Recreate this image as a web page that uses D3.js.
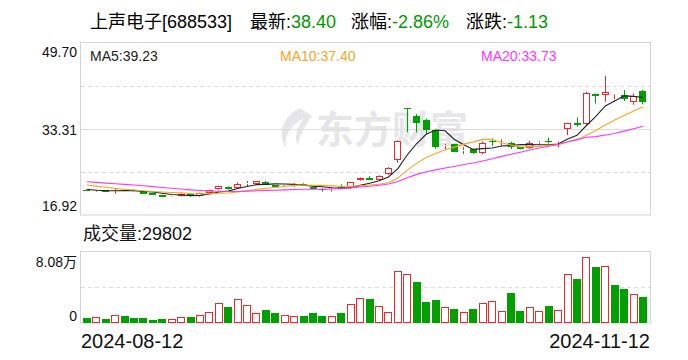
<!DOCTYPE html>
<meta charset="utf-8">
<script src="https://d3js.org/d3.v7.min.js"></script>
<style>
body { margin: 0; background: #fff; }
text { font-family: "Liberation Sans", "Noto Sans CJK SC", sans-serif; }
</style>
<div id="chart"></div>
<script>
// header / labels
var stockName = "上声电子[688533]";
var lastPrice = "38.40", pctChange = "-2.86%", priceChange = "-1.13";
var lastVolume = "29802";
var dateLabels = ["2024-08-12", "2024-11-12"];
var priceTicks = [16.92, 33.31, 49.70];
var volTicks = [0, 8.08];          // in 万
var maPeriods = [5, 10, 20];
var maLabels = ["39.23", "37.40", "33.73"];

// closes before the first visible day (only feed the moving averages)
var earlierCloses = [24.2, 24.1, 24.0, 23.95, 23.9, 23.85, 23.8, 23.7, 23.6, 23.6,
  23.7, 23.6, 23.45, 23.3, 23.05, 22.5, 21.95, 21.55, 21.36];

var opens = [21.70, 21.42, 21.62, 21.48, 21.62, 21.67, 21.35, 21.03, 20.72, 20.30,
  20.53, 20.85, 20.55, 21.05, 21.80, 22.23, 22.05, 22.90, 22.85, 23.25,
  22.55, 22.55, 22.60, 22.80, 22.30, 21.85, 21.80, 22.25, 22.20, 23.56,
  23.95, 23.60, 24.70, 27.30, 37.23, 35.71, 34.95, 33.00, 30.10, 30.35,
  29.20, 29.40, 28.62, 31.00, 30.70, 30.53, 29.77, 29.64, 30.60, 31.00,
  30.30, 33.19, 34.45, 34.13, 39.89, 39.70, 38.98, 39.70, 38.31, 40.46];
var highs = [21.75, 21.75, 21.70, 22.00, 21.70, 21.75, 21.45, 21.10, 20.80, 20.45,
  21.05, 20.95, 21.15, 21.70, 22.50, 22.35, 23.10, 23.37, 23.40, 23.35,
  22.60, 22.85, 22.95, 22.95, 22.40, 22.00, 22.10, 22.75, 23.25, 24.05,
  24.30, 24.45, 26.05, 31.05, 37.25, 36.09, 35.20, 33.10, 30.45, 30.45,
  29.80, 29.50, 30.90, 31.48, 31.29, 30.84, 29.90, 31.02, 31.02, 31.60,
  30.84, 34.45, 35.46, 40.33, 40.00, 43.36, 39.83, 40.65, 40.02, 40.65];
var lows = [21.60, 21.35, 21.30, 20.96, 21.45, 21.40, 20.90, 20.70, 20.35, 20.15,
  20.45, 20.40, 20.40, 20.95, 21.75, 21.75, 22.00, 22.42, 22.80, 22.65,
  22.20, 22.45, 22.30, 22.45, 21.80, 21.35, 21.35, 21.85, 22.00, 23.45,
  23.55, 23.45, 24.55, 26.85, 32.67, 32.60, 32.29, 29.50, 29.25, 28.85,
  28.50, 28.55, 28.45, 30.07, 30.02, 29.45, 29.40, 29.50, 30.26, 30.53,
  29.77, 32.10, 33.70, 34.00, 38.12, 38.42, 38.56, 38.56, 37.86, 37.95];
var closes = [21.64, 21.67, 21.36, 21.58, 21.55, 21.48, 21.00, 20.78, 20.40, 20.42,
  20.96, 20.45, 21.05, 21.60, 22.42, 21.80, 22.90, 23.00, 23.30, 22.70,
  22.25, 22.78, 22.66, 22.50, 21.85, 21.65, 21.88, 22.15, 23.10, 24.00,
  23.60, 24.30, 25.78, 30.97, 37.16, 34.32, 33.05, 29.80, 30.25, 28.95,
  29.30, 28.62, 30.53, 30.90, 30.78, 29.77, 29.50, 30.53, 30.70, 30.90,
  30.40, 34.32, 34.00, 40.02, 39.51, 40.33, 39.05, 38.88, 39.53, 38.40];
// volume in 万 shares
var volumes = [0.54, 0.66, 0.43, 0.96, 0.77, 0.54, 0.54, 0.31, 0.43, 0.50,
  0.73, 0.66, 0.96, 1.30, 2.34, 1.81, 2.73, 2.11, 1.19, 1.47,
  1.12, 0.96, 0.84, 0.77, 1.12, 0.77, 0.84, 1.12, 2.23, 2.92,
  2.73, 2.00, 1.30, 6.04, 5.69, 4.70, 2.39, 2.62, 1.88, 1.58,
  1.30, 1.58, 2.34, 2.57, 1.42, 3.43, 1.35, 1.88, 1.42, 1.93,
  1.53, 5.69, 5.04, 7.65, 6.43, 6.61, 4.35, 3.89, 3.38, 2.98];
// 1 = up day (red bar), 0 = down day (green bar)
var volUp = [0, 1, 0, 1, 0, 0, 0, 0, 0, 1,
  1, 0, 1, 1, 1, 0, 1, 1, 1, 0,
  0, 1, 1, 0, 0, 0, 1, 0, 1, 1,
  0, 1, 1, 1, 1, 0, 0, 0, 1, 0,
  1, 0, 1, 1, 1, 0, 0, 1, 1, 0,
  1, 1, 0, 1, 0, 1, 0, 0, 1, 0];

var RED = "#f0282a", GREEN = "#00a000", FRAME = "#d3d3db", GRID = "#dcdcdc";

var svg = d3.select("#chart").append("svg")
  .attr("width", 688).attr("height", 360);

var n = closes.length;
var x = d3.scalePoint().domain(d3.range(n)).range([82.1, 647.7]).padding(0.5);
var y = d3.scaleLinear().domain([priceTicks[0], priceTicks[2]]).range([215, 42.5]);
var yv = d3.scaleLinear().domain(volTicks).range([323, 253]);

// header
var head = svg.append("g").style("font-size", "18px");
head.append("text").attr("x", 90).attr("y", 28).attr("fill", "#000").text(stockName);
var parts = [["最新:", lastPrice, 250], ["涨幅:", pctChange, 351], ["涨跌:", priceChange, 466]];
parts.forEach(function(p) {
  var t = head.append("text").attr("x", p[2]).attr("y", 28);
  t.append("tspan").attr("fill", "#000").text(p[0]);
  t.append("tspan").attr("fill", "#009900").text(p[1]);
});

// frames + grid
svg.append("rect").attr("x", 80.5).attr("y", 42.5).attr("width", 570).attr("height", 172.5)
  .attr("fill", "none").attr("stroke", FRAME);
svg.append("rect").attr("x", 80.5).attr("y", 251.5).attr("width", 570).attr("height", 71.5)
  .attr("fill", "none").attr("stroke", FRAME);

// watermark
var wm = svg.append("g").attr("fill", "#e6e6ea");
wm.append("path")
  .attr("d", "M300,108 C284,116 276,132 286,148 C284,134 292,124 304,118 C296,128 294,138 298,146 C300,132 308,122 312,116 C306,112 302,110 300,108 Z");
wm.append("text").attr("x", 316).attr("y", 143).style("font-size", "38px").style("font-weight", "bold")
  .style("font-family", "'Noto Sans CJK SC', sans-serif").text("东方财富");

var q = (y(priceTicks[0]) - y(priceTicks[2])) / 4;
[1, 3].forEach(function(k) {
  var gy = Math.round(y(priceTicks[2]) + k * q) + 0.5;
  svg.append("line").attr("x1", 81).attr("x2", 650).attr("y1", gy).attr("y2", gy)
    .attr("stroke", GRID).attr("stroke-dasharray", "4,3");
});
svg.append("line").attr("x1", 81).attr("x2", 650)
  .attr("y1", Math.round(y(priceTicks[1])) + 0.5).attr("y2", Math.round(y(priceTicks[1])) + 0.5)
  .attr("stroke", GRID);
svg.append("line").attr("x1", 81).attr("x2", 650).attr("y1", 287.5).attr("y2", 287.5)
  .attr("stroke", GRID).attr("stroke-dasharray", "4,3");

// axis labels
var ax = svg.append("g").style("font-size", "14px").attr("fill", "#111").attr("text-anchor", "end");
var offs = [-4, 6.3, 14.2];
priceTicks.forEach(function(t, i) {
  ax.append("text").attr("x", 77).attr("y", y(t) + offs[i]).text(d3.format(".2f")(t));
});
ax.append("text").attr("x", 77).attr("y", yv(volTicks[1]) + 14).text(volTicks[1] + "万");
ax.append("text").attr("x", 77).attr("y", yv(0) - 2.5).text(volTicks[0]);

// candles
var data = d3.range(n).map(function(i) {
  return {i: i, o: opens[i], h: highs[i], l: lows[i], c: closes[i], v: volumes[i], up: volUp[i]};
});
var cg = svg.append("g");
data.forEach(function(d) {
  var left = Math.round(x(d.i) - 3.5);
  var mid = left + 3.5;
  var rise = d.c >= d.o;
  var top = Math.round(y(Math.max(d.o, d.c)));
  var bot = Math.round(y(Math.min(d.o, d.c)));
  if (bot - top < 1) bot = top + 1;
  var col = rise ? RED : GREEN;
  if (rise) {
    cg.append("line").attr("x1", mid).attr("x2", mid).attr("y1", y(d.h)).attr("y2", top)
      .attr("stroke", col);
    cg.append("line").attr("x1", mid).attr("x2", mid).attr("y1", bot).attr("y2", y(d.l))
      .attr("stroke", col);
    cg.append("rect").attr("x", left + 0.5).attr("y", top + 0.5).attr("width", 6)
      .attr("height", Math.max(bot - top - 1, 0)).attr("fill", "#fff").attr("stroke", col);
  } else {
    cg.append("line").attr("x1", mid).attr("x2", mid).attr("y1", y(d.h)).attr("y2", y(d.l))
      .attr("stroke", col);
    cg.append("rect").attr("x", left).attr("y", top).attr("width", 7)
      .attr("height", bot - top).attr("fill", col);
  }
});

// moving averages
var allCloses = earlierCloses.concat(closes);
var off = earlierCloses.length;
var maColors = ["#222", "#f5a623", "#ff33ff"];
maPeriods.forEach(function(p, k) {
  var vals = d3.range(n).map(function(i) {
    return d3.mean(allCloses.slice(off + i - p + 1, off + i + 1));
  });
  svg.append("path").datum(vals)
    .attr("fill", "none").attr("stroke", maColors[k]).attr("stroke-width", 1.1)
    .attr("d", d3.line().x(function(v, i) { return x(i); }).y(function(v) { return y(v); }));
});

var maX = [90, 280, 481];
maPeriods.forEach(function(p, k) {
  svg.append("text").attr("x", maX[k]).attr("y", 61).style("font-size", "14px")
    .attr("fill", maColors[k]).text("MA" + p + ":" + maLabels[k]);
});

// volume
svg.append("text").attr("x", 83).attr("y", 240).style("font-size", "18px").attr("fill", "#111")
  .text("成交量:" + lastVolume);
var vg = svg.append("g");
data.forEach(function(d) {
  var left = Math.round(x(d.i) - 4);
  var top = Math.round(yv(d.v));
  if (d.up) {
    vg.append("rect").attr("x", left + 0.5).attr("y", top + 0.5).attr("width", 7)
      .attr("height", 322 - top).attr("fill", "#fff").attr("stroke", RED);
  } else {
    vg.append("rect").attr("x", left).attr("y", top).attr("width", 8)
      .attr("height", 323 - top).attr("fill", GREEN);
  }
});

// date labels
svg.append("text").attr("x", 81).attr("y", 348).style("font-size", "20px").attr("fill", "#111")
  .text(dateLabels[0]);
svg.append("text").attr("x", 650).attr("y", 348).attr("text-anchor", "end")
  .style("font-size", "20px").attr("fill", "#111").text(dateLabels[1]);
</script>
